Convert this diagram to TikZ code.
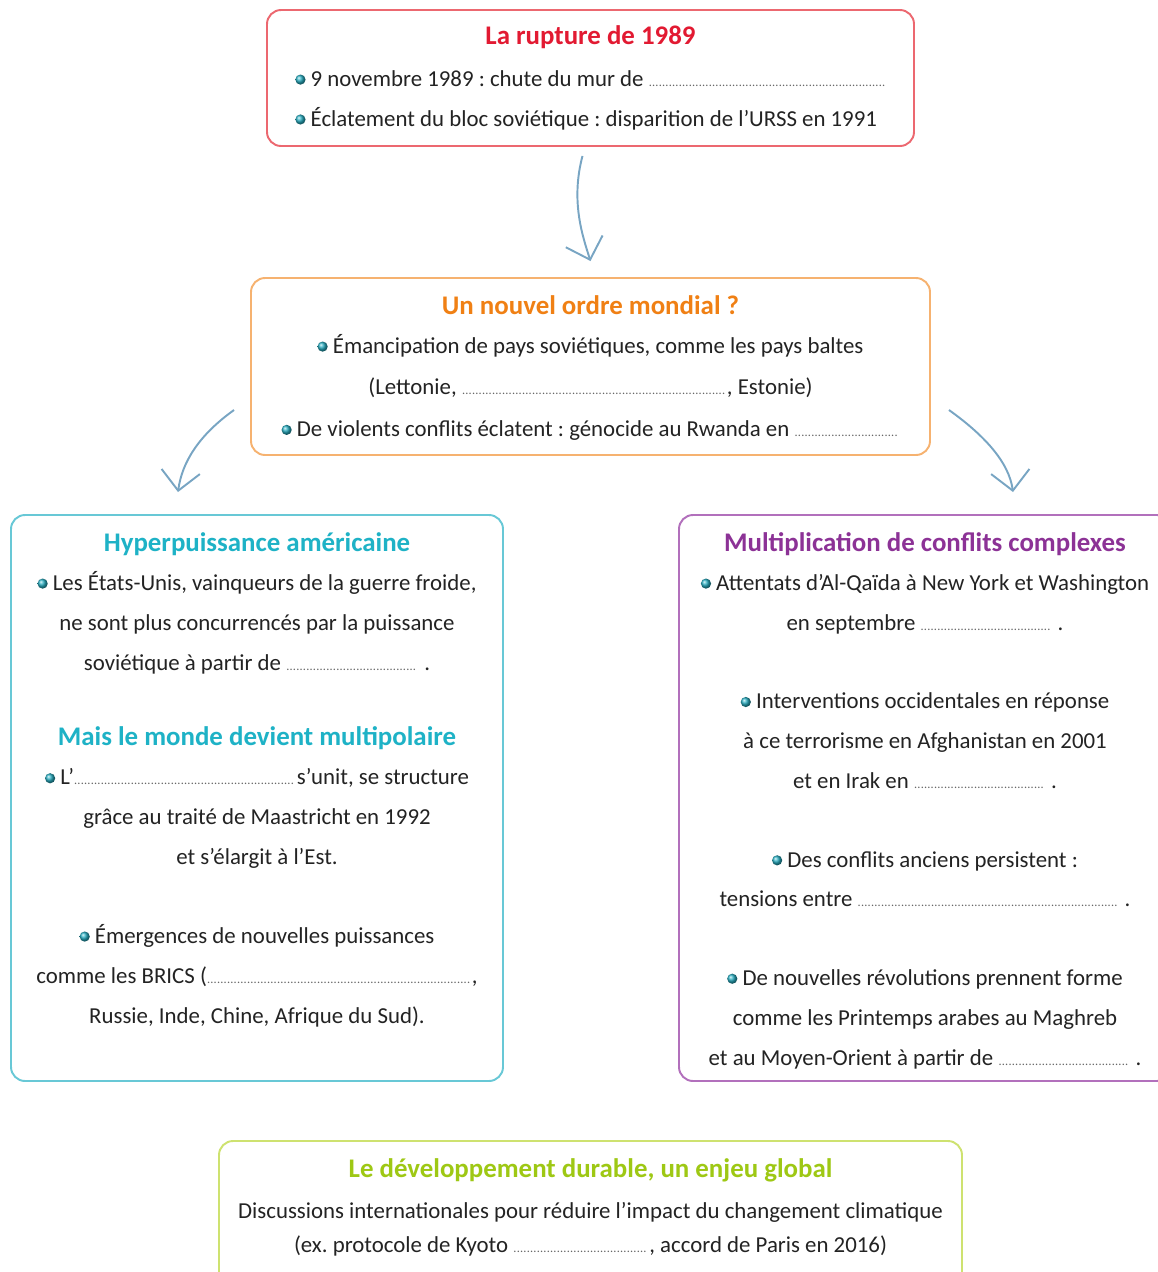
\documentclass[tikz,border=0pt]{standalone}
\usepackage{fontspec}
\setmainfont{Carlito}
\usepackage{xcolor}
\usetikzlibrary{positioning,arrows.meta,calc}
\definecolor{rougeT}{RGB}{226,26,50}
\definecolor{rougeB}{RGB}{236,104,112}
\definecolor{orangeT}{RGB}{240,128,20}
\definecolor{orangeB}{RGB}{246,178,112}
\definecolor{tealT}{RGB}{30,178,198}
\definecolor{tealB}{RGB}{104,200,214}
\definecolor{violetT}{RGB}{140,50,150}
\definecolor{violetB}{RGB}{178,112,188}
\definecolor{vertT}{RGB}{158,200,20}
\definecolor{vertB}{RGB}{206,226,112}
\definecolor{flecheC}{RGB}{120,165,195}
\definecolor{puceC}{RGB}{40,175,195}
\definecolor{texteC}{RGB}{35,35,35}
\tikzset{
  cadre/.style  = {draw, rounded corners=8pt, line width=1.1pt, fill=white},
  titre/.style  = {font=\fontsize{15.3}{18}\selectfont\bfseries, inner sep=0pt},
  bloc/.style   = {align=center, font=\fontsize{13}{22.7}\selectfont\frenchspacing, text=texteC, inner sep=0pt},
  lien/.style   = {-{Straight Barb[length=11pt,width=22pt,line width=1.1pt]}, line width=1.1pt, draw=flecheC},
}
\newcommand{\puce}{\tikz[baseline=-3.8pt]\shade[ball color=puceC] (0,0) circle (2.9pt);\ }
\newcommand{\trous}[1]{\hbox to #1{\color{black!60}\scriptsize\leaders\hbox to 1.9pt{\hss.\hss}\hfill}}
\newcommand{\soustitre}[2]{{\color{#1}\fontsize{15.3}{18}\selectfont\bfseries #2}}

\begin{document}
\begin{tikzpicture}[x=0.02cm, y=-0.02cm]
  \useasboundingbox (0,0) rectangle (1158,1272);
  \clip (0,0) rectangle (1158,1272);
  % cadres
  \node[cadre, draw=rougeB, minimum width=647*0.02cm, minimum height=136*0.02cm] (rupture) at (590.5,78) {};
  \node[cadre, draw=orangeB, minimum width=679*0.02cm, minimum height=177*0.02cm] (ordre) at (590.5,366.5) {};
  \node[cadre, draw=tealB, minimum width=492*0.02cm, minimum height=566*0.02cm] (hyper) at (257,798) {};
  \node[cadre, draw=violetB, minimum width=492*0.02cm, minimum height=566*0.02cm] (conflits) at (925,798) {};
  \node[cadre, draw=vertB, minimum width=743*0.02cm, minimum height=170*0.02cm] (durable) at (590.5,1226) {};

  % titres
  \node[titre, text=rougeT] (rupture-titre) at (590.5,37) {La rupture de 1989};
  \node[titre, text=orangeT] (ordre-titre) at (590.5,305) {Un nouvel ordre mondial ?};
  \node[titre, text=tealT] (hyper-titre) at (257,544) {Hyperpuissance américaine};
  \node[titre, text=violetT] (conflits-titre) at (925,544) {Multiplication de conflits complexes};
  \node[titre, text=vertT] (durable-titre) at (590.5,1170) {Le développement durable, un enjeu global};

  % textes
  \node[bloc, align=left, anchor=north west] (rupture-txt) at (295,58) {\strut\puce 9 novembre 1989 : chute du mur de \trous{4.76cm}\\
    \puce Éclatement du bloc soviétique : disparition de l’URSS en 1991};
  \node[bloc, anchor=north] (ordre-txt) at (590.5,325) {\strut\puce Émancipation de pays soviétiques, comme les pays baltes\\[1pt]
    (Lettonie, \trous{5.3cm}, Estonie)\\[1pt]
    \puce De violents conflits éclatent : génocide au Rwanda en \trous{2.1cm}};
  \node[bloc, anchor=north] (hyper-txt) at (257,562) {\strut\puce Les États-Unis, vainqueurs de la guerre froide,\\
    ne sont plus concurrencés par la puissance\\
    soviétique à partir de \trous{2.66cm}\ .\\[20pt]
    \soustitre{tealT}{Mais le monde devient multipolaire}\\
    \puce L’\trous{4.46cm}s’unit, se structure\\
    grâce au traité de Maastricht en 1992\\
    et s’élargit à l’Est.\\[22pt]
    \puce Émergences de nouvelles puissances\\
    comme les BRICS (\trous{5.3cm},\\
    Russie, Inde, Chine, Afrique du Sud).};
  \node[bloc, anchor=north] (conflits-txt) at (925,562) {\strut\puce Attentats d’Al-Qaïda à New York et Washington\\
    en septembre \trous{2.64cm}\ .\\[22pt]
    \puce Interventions occidentales en réponse\\
    à ce terrorisme en Afghanistan en 2001\\
    et en Irak en \trous{2.64cm}\ .\\[22pt]
    \puce Des conflits anciens persistent :\\
    tensions entre \trous{5.24cm}\ .\\[22pt]
    \puce De nouvelles révolutions prennent forme\\
    comme les Printemps arabes au Maghreb\\
    et au Moyen-Orient à partir de \trous{2.64cm}\ .};
  \node[bloc, anchor=north] (durable-txt) at (590.5,1190) {\strut Discussions internationales pour réduire l’impact du changement climatique\\[-3.4pt]
    (ex. protocole de Kyoto \trous{2.72cm}, accord de Paris en 2016)};

  % fleches
  \draw[lien] ($(rupture.south)+(-8,9)$) .. controls +(-12,45) and +(-8,-25) .. ($(ordre.north)+(0,-16)$);
  \draw[lien] ($(ordre.west)+(-16,43.5)$) .. controls +(-35,25) and +(4,-30) .. ($(hyper.north)+(-79,-22)$);
  \draw[lien] ($(ordre.east)+(18,43.5)$) .. controls +(35,25) and +(-4,-30) .. ($(conflits.north)+(88,-22)$);
\end{tikzpicture}
\end{document}
